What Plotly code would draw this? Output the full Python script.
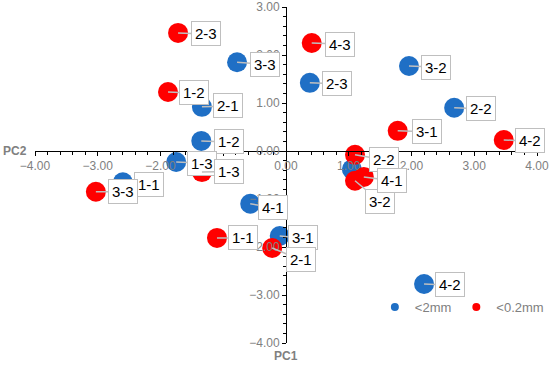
import plotly.graph_objects as go

# PCA scores
labels = ["1-1", "1-2", "1-3", "2-1", "2-2", "2-3", "3-1", "3-2", "3-3", "4-1", "4-2", "4-3"]
pc1_coarse = [-2.60, -1.35, -1.75, -1.34, 2.68, 0.38, -0.10, 1.96, -0.78, -0.57, 2.20, 1.05]
pc2_coarse = [-0.65, 0.21, -0.23, 0.92, 0.90, 1.42, -1.77, 1.77, 1.85, -1.10, -2.77, -0.38]
pc1_fine = [-1.10, -1.88, -1.34, -0.22, 1.10, -1.72, 1.78, 1.10, -3.03, 1.24, 3.47, 0.41]
pc2_fine = [-1.81, 1.23, -0.44, -2.02, -0.08, 2.46, 0.42, -0.62, -0.85, -0.54, 0.23, 2.25]

blue = "#1F6FC5"
red = "#FF0000"
grey = "#808080"

# label callout offsets in pixels (box centre relative to point)
off_coarse = [(26, 2), (28, 1), (26, 1), (26, -1), (27, 1), (27, 1),
              (23, 2), (27, 1), (28, 2), (23, 4), (26, 1), None]
off_fine = [(26, 0), (26, 1), (27, -1), (29, 12), (29, 5), (28, 1),
            (29, 1), (25, 21), (27, 0), (28, 4), (26, 1), (28, 1)]

fig = go.Figure()
fig.add_trace(go.Scatter(x=pc1_coarse, y=pc2_coarse, mode="markers", showlegend=False,
                         marker=dict(color=blue, size=20)))
fig.add_trace(go.Scatter(x=pc1_fine, y=pc2_fine, mode="markers", showlegend=False,
                         marker=dict(color=red, size=20)))
# small legend markers
fig.add_trace(go.Scatter(x=[None], y=[None], mode="markers", name="&lt;2mm",
                         marker=dict(color=blue, size=8)))
fig.add_trace(go.Scatter(x=[None], y=[None], mode="markers", name="&lt;0.2mm",
                         marker=dict(color=red, size=8)))

anns = []
for xs, ys, offs in [(pc1_coarse, pc2_coarse, off_coarse), (pc1_fine, pc2_fine, off_fine)]:
    for lab, x, y, o in zip(labels, xs, ys, offs):
        if o is None:
            continue
        anns.append(dict(x=x, y=y, text=lab, ax=o[0], ay=o[1], showarrow=True,
                         arrowhead=0, arrowwidth=1.5, arrowcolor="#BFBFBF", standoff=0,
                         bgcolor="white", bordercolor="#BFBFBF", borderwidth=1, borderpad=3,
                         font=dict(family="Arial", size=15, color="black")))

anns.append(dict(text="<b>PC2</b>", xref="paper", yref="paper", x=-0.04, y=4 / 7,
                 xanchor="center", yanchor="middle", showarrow=False,
                 font=dict(family="Arial", size=12, color=grey)))
anns.append(dict(text="<b>PC1</b>", xref="paper", yref="paper", x=0.5, y=-0.04,
                 xanchor="center", yanchor="middle", showarrow=False,
                 font=dict(family="Arial", size=12, color=grey)))

axis_common = dict(showgrid=False, zeroline=False, showline=True, linecolor="black",
                   linewidth=1, ticks="outside", ticklen=4, tickcolor="black",
                   dtick=1, tickformat=".2f", automargin=False,
                   tickfont=dict(family="Arial", size=12, color=grey),
                   minor=dict(ticks="outside", ticklen=3, dtick=0.2, tickcolor="black"))

fig.update_layout(
    width=550, height=366,
    margin=dict(l=35, r=13, t=7, b=23, autoexpand=False),
    plot_bgcolor="white", paper_bgcolor="white",
    xaxis=dict(range=[-4, 4], anchor="free", position=4 / 7, **axis_common),
    yaxis=dict(range=[-4, 3], anchor="free", position=0.5, **axis_common),
    legend=dict(orientation="h", x=0.677, y=0.107, xanchor="left", yanchor="middle",
                font=dict(family="Arial", size=13, color=grey), bgcolor="rgba(0,0,0,0)",
                itemwidth=30),
    annotations=anns,
)

fig.write_html("out.html", config={"displayModeBar": False},
               post_script="document.body.style.margin='0';")
